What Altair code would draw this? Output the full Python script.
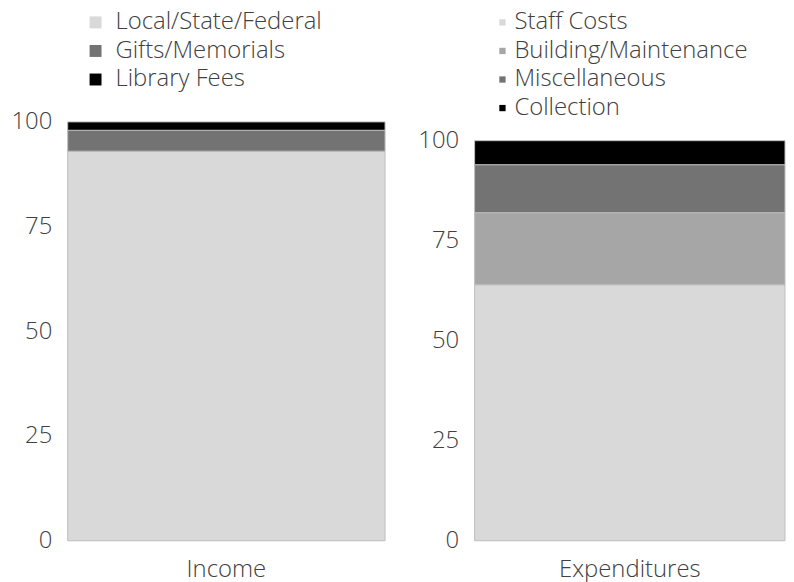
import altair as alt
import pandas as pd

income_cats = ["Local/State/Federal", "Gifts/Memorials", "Library Fees"]
income_vals = [93, 5, 2]
income_colors = ["#d9d9d9", "#737373", "#000000"]

exp_cats = ["Staff Costs", "Building/Maintenance", "Miscellaneous", "Collection"]
exp_vals = [64, 18, 12, 6]
exp_colors = ["#d9d9d9", "#a6a6a6", "#737373", "#000000"]

y_ticks = [0, 25, 50, 75, 100]

FONT = "Open Sans"
TXT = "#404040"
FS = 24

inc_df = pd.DataFrame({"panel": "Income", "cat": income_cats, "val": income_vals,
                       "ord": list(range(len(income_cats)))})
exp_df = pd.DataFrame({"panel": "Expenditures", "cat": exp_cats, "val": exp_vals,
                       "ord": list(range(len(exp_cats)))})


def panel(df, cats, colors, w, h, ymax, lx, ly, ssize, loff):
    return alt.Chart(df).mark_bar(stroke="#bdbdbd", strokeWidth=1).encode(
        x=alt.X("panel:N", title=None,
                scale=alt.Scale(paddingInner=0, paddingOuter=0),
                axis=alt.Axis(labelAngle=0, ticks=False, domain=False,
                              labelFontSize=FS, labelFont=FONT, labelFontWeight=300,
                              labelColor=TXT, labelPadding=17)),
        y=alt.Y("val:Q", stack="zero", title=None,
                scale=alt.Scale(domain=[0, ymax], nice=False, zero=True),
                axis=alt.Axis(values=y_ticks, grid=False, ticks=False, domain=False,
                              labelFontSize=FS, labelFont=FONT, labelFontWeight=300,
                              labelColor=TXT, labelPadding=16)),
        color=alt.Color("cat:N", sort=cats,
                        scale=alt.Scale(domain=cats, range=colors),
                        legend=alt.Legend(orient="none", legendX=lx, legendY=ly,
                                          title=None, symbolType="square",
                                          symbolSize=ssize, symbolStrokeWidth=0,
                                          labelFontSize=FS, labelFont=FONT,
                                          labelFontWeight=300, labelColor=TXT,
                                          labelLimit=0,
                                          rowPadding=4.7, labelOffset=loff, padding=0)),
        order=alt.Order("ord:Q", sort="ascending"),
    ).properties(width=w, height=h)


left = panel(inc_df, income_cats, income_colors, 319, 421, 100, 16, -112, 144, 8)
right = panel(exp_df, exp_cats, exp_colors, 312, 421, 104.7, 16, -112, 40, 0)

chart = alt.hconcat(left, right, spacing=31).resolve_scale(
    color="independent", y="independent", x="independent"
).properties(
    padding={"left": 2, "top": 1, "right": 0, "bottom": 0}
).configure_view(stroke=None)

chart.save("out.html", embed_options={"renderer": "svg", "actions": False})
